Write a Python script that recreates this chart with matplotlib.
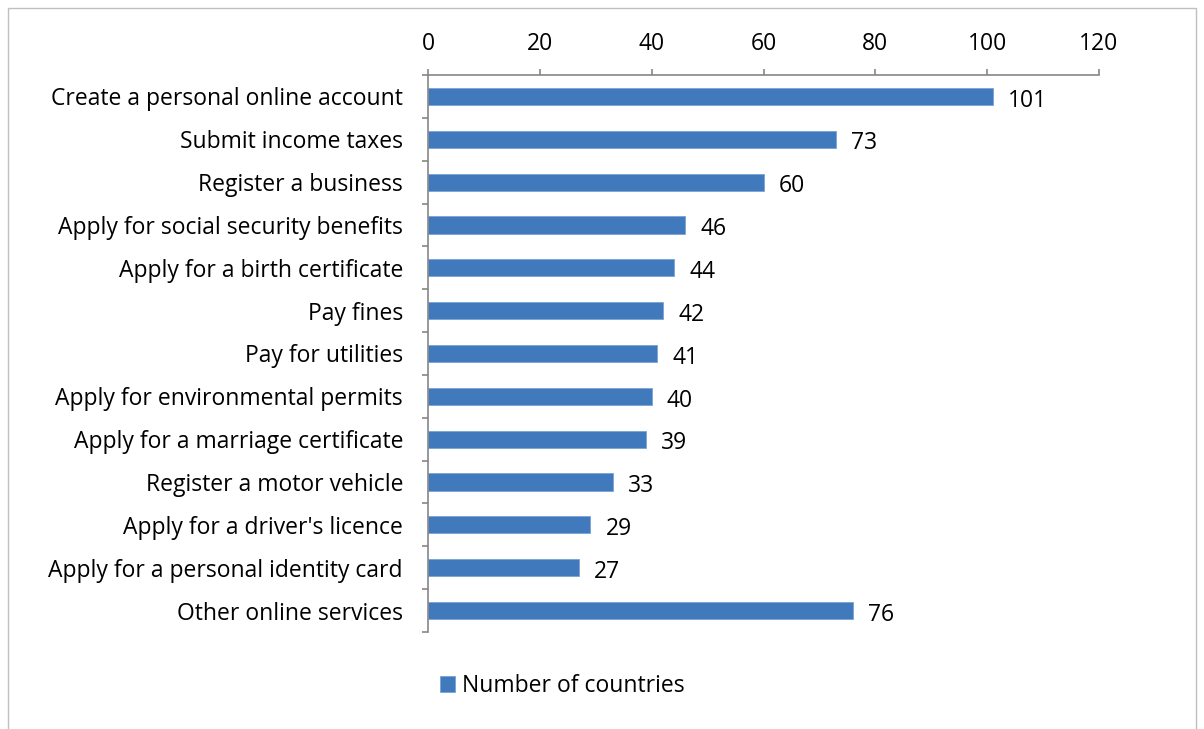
import numpy as np
import matplotlib.pyplot as plt
from matplotlib.patches import Rectangle

# Servicios en linea y numero de paises
services = [
    "Create a personal online account",
    "Submit income taxes",
    "Register a business",
    "Apply for social security benefits",
    "Apply for a birth certificate",
    "Pay fines",
    "Pay for utilities",
    "Apply for environmental permits",
    "Apply for a marriage certificate",
    "Register a motor vehicle",
    "Apply for a driver's licence",
    "Apply for a personal identity card",
    "Other online services",
]
countries = [101, 73, 60, 46, 44, 42, 41, 40, 39, 33, 29, 27, 76]
xticks = [0, 20, 40, 60, 80, 100, 120]

plt.rcParams['font.family'] = ['Open Sans', 'DejaVu Sans']
grey = '#868686'
blue = '#4179bd'
fs = 16.5

fig = plt.figure(figsize=(12.04, 7.29), dpi=100)
ax = fig.add_axes([428 / 1204, 1 - 632 / 729, 671 / 1204, 557 / 729])

y = np.arange(len(services))
bars = ax.barh(y, countries, height=0.4, color=blue, edgecolor='#7aa3d4',
               linewidth=0.6, label='Number of countries')

# Etiquetas de valor
for yi, v in zip(y, countries):
    ax.annotate(str(v), (v, yi), xytext=(11, -3), textcoords='offset points',
                va='center', ha='left', fontsize=fs)

ax.set_xlim(0, 120)
ax.set_ylim(len(services) - 0.5, -0.5)
ax.xaxis.tick_top()
ax.set_xticks(xticks)
ax.tick_params(axis='x', direction='out', length=4.5, color=grey, width=1.2,
               labelsize=fs, pad=9)

# Eje de categorias con marcas entre barras
ax.set_yticks(y)
ax.set_yticklabels(services, fontsize=fs)
ax.tick_params(axis='y', length=0, pad=18)
ax.set_yticks(np.arange(-0.5, len(services)), minor=True)
ax.tick_params(axis='y', which='minor', direction='out', length=4.5,
               color=grey, width=1.2)

for side in ['right', 'bottom']:
    ax.spines[side].set_visible(False)
for side in ['top', 'left']:
    ax.spines[side].set_color(grey)
    ax.spines[side].set_linewidth(1.2)

leg = fig.legend(handles=[bars], loc='center', bbox_to_anchor=(562 / 1204, 1 - 686 / 729),
                 frameon=False, fontsize=fs, handlelength=0.65, handleheight=0.65,
                 handletextpad=0.3)

# Borde del grafico
fig.patches.append(Rectangle((8 / 1204, -0.05), 1188 / 1204, 1.05 - 8 / 729,
                             transform=fig.transFigure, fill=False,
                             edgecolor='#bfbfbf', linewidth=1.0))

fig.savefig('out.png', dpi=100)
